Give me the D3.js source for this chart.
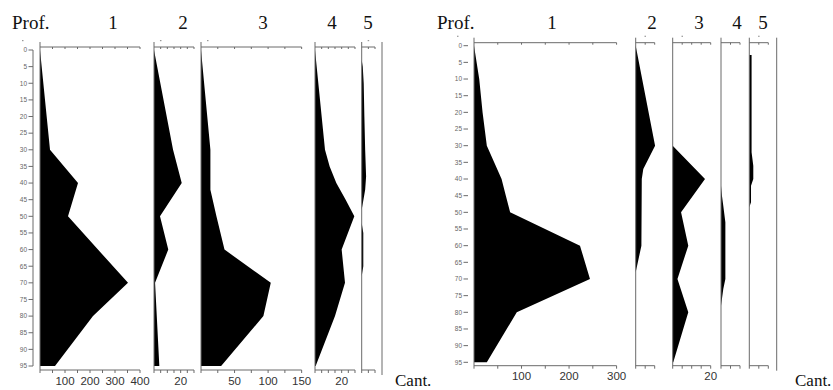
<!DOCTYPE html>
<html>
  <head>
    <meta charset="utf-8">
    <script src="https://unpkg.com/d3@7/dist/d3.min.js"></script>
    <style>
      body { margin: 0; background: #fff; }
      .axis { stroke: #6a6a6a; stroke-width: 1; fill: none; }
      .area { fill: #000; stroke: none; }
      .title { font-family: "Liberation Serif", serif; font-size: 19px; fill: #111; }
      .cant { font-family: "Liberation Serif", serif; font-size: 17px; fill: #111; }
      .xlab { font-family: "Liberation Sans", Arial, sans-serif; font-size: 11.5px; fill: #333; }
      .dlab { font-family: "Liberation Sans", Arial, sans-serif; font-size: 6.5px; fill: #666; }
    </style>
  </head>
  <body>
    <script>
      // depth ticks (Prof., cm)
      const depthTicks = d3.range(0, 100, 5);
      const titles = ['1', '2', '3', '4', '5'];

      // left profile: [depth, cantidad]
      const left1 = [[0, 0], [30, 40], [40, 152], [50, 112], [70, 352], [80, 212], [95, 60]];
      const left2 = [[0, 0], [30, 14.3], [40, 20.8], [50, 4.5], [60, 10.7], [70, 0.8], [95, 4]];
      const left3 = [[0, 0], [30, 14], [42, 14], [50, 23], [60, 35], [70, 104], [80, 93], [95, 30]];
      const left4 = [[0, 0], [30, 7.5], [35, 11], [40, 16], [45, 23], [50, 29.5], [60, 20], [70, 22.5], [80, 15], [95, 0.5]];
      const left5 = [[3, 0], [5, 0.8], [10, 1.5], [20, 2], [30, 2.6], [38, 3.3], [42, 2.6], [48, 0], [52, 0], [55, 1.2], [65, 1.2], [68, 0], [95, 0]];
      const leftLabels = [[100, 200, 300, 400], [20], [50, 100, 150], [20], []];

      // right profile
      const right1 = [[0, 0], [10, 11], [20, 18], [30, 27], [40, 58], [45, 67], [50, 76], [60, 223], [70, 244], [80, 90], [95, 27]];
      const right2 = [[0, 0], [30, 10.2], [37, 4], [40, 3.2], [60, 3], [68, 0], [95, 0]];
      const right3 = [[0, 0], [30, 0], [40, 17], [50, 4.4], [60, 8.2], [70, 2.5], [80, 8.2], [95, 0.3]];
      const right4 = [[0, 0], [42, 0], [45, 0.5], [48, 1.2], [53, 2.3], [70, 2.3], [73, 1.2], [78, 0], [95, 0]];
      const right5 = [[2.8, 1.2], [32, 1.2], [36, 2.1], [40, 2.1], [42, 0.9], [47, 0.9], [48.5, 0], [95, 0]];
      const rightLabels = [[100, 200, 300], [], [20], [], []];

      const W = 833, H = 390;
      const svg = d3.select('body').append('svg')
        .attr('width', W).attr('height', H);

      function profile(cfg) {
        const g = svg.append('g');
        const y = d3.scaleLinear().domain([0, 95]).range(cfg.yRange);

        g.append('text').attr('class', 'title')
          .attr('x', cfg.profX).attr('y', 29).text('Prof.');

        // depth labels
        depthTicks.forEach(d => {
          g.append('text').attr('class', 'dlab')
            .attr('x', cfg.depthX).attr('y', y(d) + 2.3)
            .attr('text-anchor', 'end').text(d);
          g.append('line').attr('class', 'axis')
            .attr('x1', cfg.depthX + 1.5).attr('x2', cfg.depthX + 6)
            .attr('y1', y(d)).attr('y2', y(d));
        });
        if (cfg.depthLine) {
          g.append('line').attr('class', 'axis')
            .attr('x1', cfg.depthX + 6).attr('x2', cfg.depthX + 6)
            .attr('y1', y(0)).attr('y2', y(95));
        }
        g.append('rect').attr('x', cfg.depthX - 5).attr('y', cfg.topY - 7)
          .attr('width', 1.5).attr('height', 1.2).attr('fill', '#999');

        cfg.panels.forEach((p, i) => {
          const x = d3.scaleLinear().domain([0, p.max]).range([p.x0, p.x0 + p.max * p.k]);
          const area = d3.area()
            .y(d => y(d[0]))
            .x0(x(0))
            .x1(d => x(d[1]));
          g.append('path').attr('class', 'area').attr('d', area(p.data));

          // panel edge
          g.append('line').attr('class', 'axis')
            .attr('x1', x(0)).attr('x2', x(0))
            .attr('y1', cfg.topY - 5).attr('y2', cfg.botY + 3);
          // top + bottom axis
          [cfg.topY, cfg.botY].forEach(yy => {
            g.append('line').attr('class', 'axis')
              .attr('x1', x(0)).attr('x2', x(p.max))
              .attr('y1', yy).attr('y2', yy);
          });
          const ticks = d3.range(p.tick, p.max + 0.001, p.tick);
          ticks.forEach(t => {
            g.append('line').attr('class', 'axis')
              .attr('x1', x(t)).attr('x2', x(t))
              .attr('y1', cfg.topY).attr('y2', cfg.topY + 2);
            g.append('line').attr('class', 'axis')
              .attr('x1', x(t)).attr('x2', x(t))
              .attr('y1', cfg.botY).attr('y2', cfg.botY + 3);
          });
          if (p.dot) {
            g.append('rect').attr('x', x(p.dot) - 0.7).attr('y', cfg.topY - 7)
              .attr('width', 1.5).attr('height', 1.2).attr('fill', '#999');
          }
          cfg.labels[i].forEach(t => {
            g.append('text').attr('class', 'xlab')
              .attr('x', x(t)).attr('y', cfg.labY)
              .attr('text-anchor', 'middle').text(t);
          });
          g.append('text').attr('class', 'title')
            .attr('x', p.titleX).attr('y', 29)
            .attr('text-anchor', 'middle').text(titles[i]);
        });

        g.append('line').attr('class', 'axis')
          .attr('x1', cfg.endX).attr('x2', cfg.endX)
          .attr('y1', cfg.topY - 5).attr('y2', cfg.botY + 5);

        g.append('text').attr('class', 'cant')
          .attr('x', cfg.cantX).attr('y', 386).text('Cant.');
      }

      profile({
        yRange: [50, 366], topY: 47, botY: 370, labY: 385,
        profX: 12, depthX: 27, depthLine: true, endX: 382, cantX: 395,
        labels: leftLabels,
        panels: [
          {data: left1, x0: 40, k: 0.25, max: 400, tick: 50, titleX: 113},
          {data: left2, x0: 154, k: 1.333, max: 30, tick: 5, titleX: 183, dot: 5},
          {data: left3, x0: 201, k: 0.671, max: 150, tick: 25, titleX: 263, dot: 10},
          {data: left4, x0: 315, k: 1.333, max: 30, tick: 5, titleX: 332},
          {data: left5, x0: 361.7, k: 1.333, max: 10, tick: 5, titleX: 368, dot: 5}
        ]
      });

      profile({
        yRange: [45.7, 362.3], topY: 42.7, botY: 365.7, labY: 379.5,
        profX: 437, depthX: 462, depthLine: false, endX: 776.7, cantX: 795,
        labels: rightLabels,
        panels: [
          {data: right1, x0: 474, k: 0.4753, max: 300, tick: 50, titleX: 552},
          {data: right2, x0: 635.7, k: 1.9, max: 10, tick: 5, titleX: 652, dot: 5},
          {data: right3, x0: 672.7, k: 1.9, max: 20, tick: 5, titleX: 699, dot: 5},
          {data: right4, x0: 721, k: 1.9, max: 10, tick: 5, titleX: 737},
          {data: right5, x0: 749.3, k: 1.9, max: 10, tick: 5, titleX: 763, dot: 5}
        ]
      });
    </script>
  </body>
</html>
